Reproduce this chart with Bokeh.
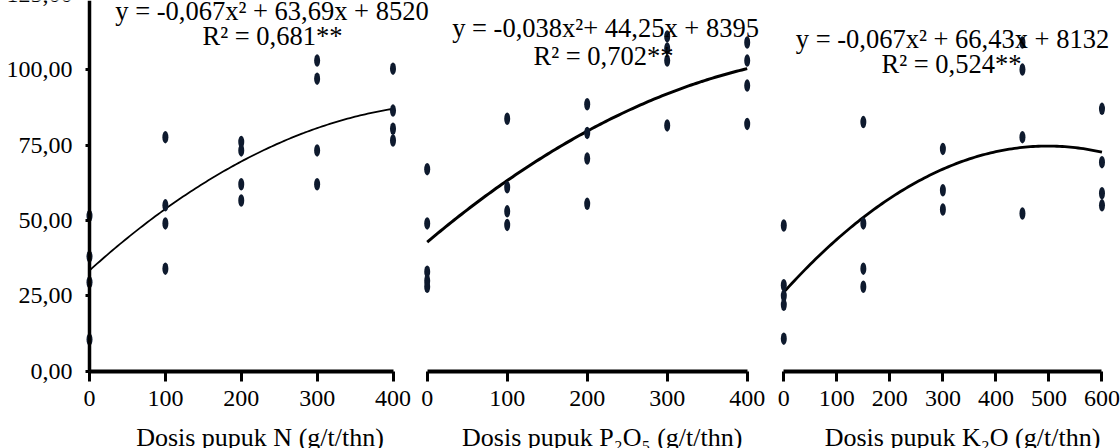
import numpy as np
from bokeh.plotting import figure
from bokeh.models import Range1d, LinearAxis, FixedTicker, Label
from bokeh.embed import file_html
from bokeh.resources import INLINE

# ---- observations: relative response vs. fertiliser dose (g/t/thn) ----
dose_N = [0, 0, 0, 0,
          100, 100, 100, 100,
          200, 200, 200, 200,
          300, 300, 300, 300,
          400, 400, 400, 400]
resp_N = [51.5, 38.0, 29.5, 10.5,
          77.6, 55.0, 49.0, 34.0,
          76.0, 73.2, 62.0, 56.6,
          103.0, 97.0, 73.2, 62.0,
          100.3, 86.4, 80.4, 76.5]

dose_P = [0, 0, 0, 0, 0,
          100, 100, 100, 100,
          200, 200, 200, 200,
          300, 300, 300, 300,
          400, 400, 400, 400]
resp_P = [67.0, 49.0, 33.0, 30.0, 28.0,
          83.7, 61.0, 53.0, 48.5,
          88.5, 79.0, 70.5, 55.5,
          111.0, 107.0, 103.0, 81.5,
          109.0, 103.0, 94.7, 82.0]

dose_K = [0, 0, 0, 0, 0,
          150, 150, 150, 150,
          300, 300, 300,
          450, 450, 450, 450,
          600, 600, 600, 600]
resp_K = [48.3, 28.5, 25.0, 22.0, 10.8,
          82.6, 49.0, 34.0, 28.0,
          73.7, 60.0, 53.6,
          109.0, 100.0, 77.6, 52.3,
          87.0, 69.3, 59.0, 55.0]

# quadratic trend lines (a, b, c) in plot units
trend_N = [-2.333e-4, 0.2273, 33.4]
trend_P = [-2.008e-4, 0.2241, 42.8]
trend_K = [-1.9556e-4, 0.19467, 26.2]

eq_N = ["y = -0,067x\u00b2 + 63,69x + 8520", "R\u00b2 = 0,681**"]
eq_P = ["y = -0,038x\u00b2+ 44,25x + 8395", "R\u00b2 = 0,702**"]
eq_K = ["y = -0,067x\u00b2 + 66,43x + 8132", "R\u00b2 = 0,524**"]

titles = ["Dosis pupuk N (g/t/thn)",
          "Dosis pupuk P\u2082O\u2085 (g/t/thn)",
          "Dosis pupuk K\u2082O (g/t/thn)"]

ticks_N = [0, 100, 200, 300, 400]
ticks_P = [0, 100, 200, 300, 400]
ticks_K = [0, 100, 200, 300, 400, 500, 600]
ticks_y = [0, 25, 50, 75, 100, 125]
ytick_text = {t: f"{t},00" for t in ticks_y}

# ---- layout: one frame covering the canvas, three panel scales ----
W, H = 1120, 448
ZERO_Y, PX_PER_Y = 370.7, 3.016
FONT = "Liberation Serif"
INK = "#0e1a2e"


def panel_range(zero_px, px_per_unit):
    # dose 0 of this panel sits at zero_px on the shared frame
    return Range1d(-zero_px / px_per_unit, (W - zero_px) / px_per_unit)


p = figure(width=W, height=H, output_backend="svg", toolbar_location=None,
           x_axis_location=None, y_axis_location=None,
           x_range=Range1d(0, 1),
           y_range=Range1d(-(H - ZERO_Y) / PX_PER_Y, ZERO_Y / PX_PER_Y),
           min_border_left=0, min_border_right=0,
           min_border_top=0, min_border_bottom=0,
           outline_line_color=None, background_fill_color="white",
           border_fill_color="white")
p.grid.grid_line_color = None

p.extra_x_ranges = {
    "N": panel_range(89.0, 0.75875),
    "P": panel_range(426.7, 0.80),
    "K": panel_range(783.3, 0.5303),
}


def style_axis(ax):
    ax.axis_line_color = "black"
    ax.major_tick_line_color = "black"
    ax.minor_tick_line_color = None
    ax.major_label_text_font = FONT
    ax.major_label_text_font_size = "24px"
    ax.major_label_text_color = "black"
    ax.major_tick_in = 0


# y axis drawn at dose 0 of the first panel
yax = LinearAxis(x_range_name="N", fixed_location=0,
                 bounds=(0, 130),
                 ticker=FixedTicker(ticks=ticks_y),
                 major_label_overrides=ytick_text)
style_axis(yax)
yax.axis_line_width = 3.5
yax.major_tick_line_width = 3
yax.major_tick_out = 4
yax.major_label_standoff = 13
p.add_layout(yax, "left")

# the top tick's label sits just past the frame edge
p.add_layout(Label(x=0, y=ticks_y[-1], x_range_name="N", x_offset=-17,
                   text=ytick_text[ticks_y[-1]],
                   text_align="right", text_baseline="middle",
                   text_font=FONT, text_font_size="24px", text_color="black"))

panels = [
    ("N", dose_N, resp_N, trend_N, ticks_N, 1.8),
    ("P", dose_P, resp_P, trend_P, ticks_P, 3.0),
    ("K", dose_K, resp_K, trend_K, ticks_K, 2.8),
]

for name, dose, resp, coef, ticks, lw in panels:
    xax = LinearAxis(x_range_name=name, fixed_location=0,
                     bounds=(ticks[0], ticks[-1]),
                     ticker=FixedTicker(ticks=ticks))
    style_axis(xax)
    xax.axis_line_width = 4
    xax.major_tick_line_width = 3
    xax.major_tick_out = 10
    xax.major_label_standoff = 10
    p.add_layout(xax, "below")

    xs = np.linspace(0, ticks[-1], 121)
    a, b, c = coef
    p.line(xs, a * xs ** 2 + b * xs + c, x_range_name=name,
           line_color="black", line_width=lw)

    p.ellipse(x=dose, y=resp, width=6, height=12.5,
              width_units="screen", height_units="screen",
              x_range_name=name, fill_color=INK, line_color=None)

# regression equations and axis titles
text_places = [
    ("N", eq_N, (240.5, 119.5), (241.2, 111.0), titles[0], 224.7),
    ("P", eq_P, (222.9, 113.7), (220.4, 104.5), titles[1], 218.75),
    ("K", eq_K, (318.1, 110.2), (316.2, 101.9), titles[2], 337.0),
]
for name, eq, pos1, pos2, title, tx in text_places:
    for txt, (x, y) in zip(eq, (pos1, pos2)):
        p.add_layout(Label(x=x, y=y, x_range_name=name, text=txt,
                           text_align="center", text_baseline="alphabetic",
                           text_font=FONT, text_font_size="26.5px",
                           text_color="black"))
    p.add_layout(Label(x=tx, y=-21.9, x_range_name=name, text=title,
                       text_align="center", text_baseline="alphabetic",
                       text_font=FONT, text_font_size="26px",
                       text_color="black"))

open("out.html", "w").write(file_html(p, INLINE))
